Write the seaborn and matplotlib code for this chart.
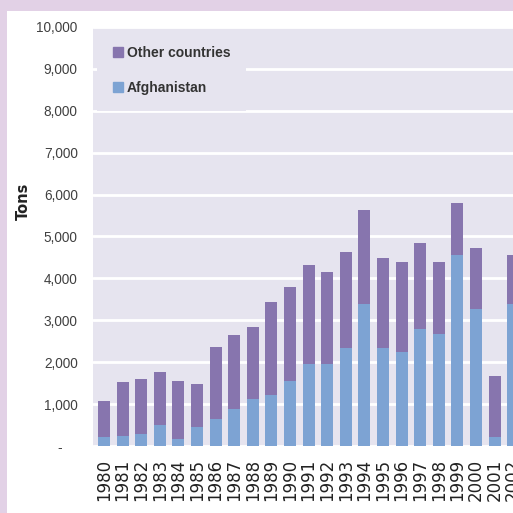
import matplotlib
matplotlib.use("Agg")
import matplotlib.pyplot as plt
import matplotlib.patches as mpatches
from matplotlib.ticker import FuncFormatter
import seaborn as sns
import pandas as pd
import numpy as np

years = [str(y) for y in range(1980, 2003)]
afghanistan = [210, 250, 290, 490, 170, 450, 650, 880, 1130, 1210, 1560, 1960,
               1960, 2330, 3400, 2330, 2250, 2800, 2680, 4560, 3280, 210, 3400]
other_countries = [870, 1270, 1310, 1270, 1390, 1030, 1710, 1760, 1710, 2230, 2240,
                   2360, 2200, 2310, 2230, 2150, 2150, 2040, 1720, 1240, 1440, 1470, 1160]
y_ticks = [0, 1000, 2000, 3000, 4000, 5000, 6000, 7000, 8000, 9000, 10000]

df = pd.DataFrame({"year": years,
                   "afghanistan": afghanistan,
                   "total": np.array(afghanistan) + np.array(other_countries)})

sns.set_theme(style="darkgrid")
lib = ["Liberation Sans", "DejaVu Sans"]

W = H = 513
fig = plt.figure(figsize=(5.13, 5.13), dpi=100)
fig.patch.set_facecolor("#e2d1e6")
fig.patches.append(mpatches.Rectangle((7 / W, 0), 1, (H - 11) / H, transform=fig.transFigure,
                                      facecolor="white", edgecolor="none", zorder=-10))

px = 18.6  # pixels per category
left_px, right_px = 93, 640
ax = fig.add_axes([left_px / W, (H - 446) / H, (right_px - left_px) / W, (446 - 27) / H])
ax.set_zorder(1)
ax.set_facecolor("#e6e4ef")

purple = "#8775ae"
blue = "#7da3d3"
sns.barplot(data=df, x="year", y="total", color=purple, width=0.64, saturation=1,
            linewidth=0, ax=ax, zorder=2)
sns.barplot(data=df, x="year", y="afghanistan", color=blue, width=0.64, saturation=1,
            linewidth=0, ax=ax, zorder=3)

x0 = -(104 - left_px) / px
ax.set_xlim(x0, x0 + (right_px - left_px) / px)
ax.set_ylim(0, 10000)
ax.set_yticks(y_ticks)
ax.yaxis.set_major_formatter(FuncFormatter(lambda v, p: "-    " if v == 0 else f"{int(v):,}"))
ax.grid(axis="y", color="white", linewidth=2)
ax.grid(axis="x", visible=False)
for s in ax.spines.values():
    s.set_visible(False)
ax.set_xlabel("")
ax.set_ylabel("")
ax.tick_params(axis="y", length=0, pad=11, labelsize=9.8, labelcolor="#404040")
ax.tick_params(axis="x", length=0, pad=9, labelsize=12, labelcolor="#222222", rotation=90)
for lab in ax.get_yticklabels():
    lab.set_family(lib)
for lab in ax.get_xticklabels():
    lab.set_family(["DejaVu Sans"])

fig.text(23 / W, 1 - 201 / H, "Tons", rotation=90, ha="center", va="center",
         fontsize=10.5, fontweight="bold", color="#222222", family=["DejaVu Sans"])

handles = [mpatches.Patch(color=purple, label="Other countries"),
           mpatches.Patch(color=blue, label="Afghanistan")]
leg = ax.legend(handles=handles, loc="upper left",
                bbox_to_anchor=(4 / (right_px - left_px), 1.0 - 3 / 419),
                frameon=True, facecolor="#e6e4ef", edgecolor="none", framealpha=1,
                handlelength=0.72, handleheight=0.72, handletextpad=0.28,
                labelspacing=1.5, borderaxespad=0, borderpad=1.15,
                prop={"family": lib, "size": 10, "weight": "bold"})
for t in leg.get_texts():
    t.set_color("#333333")
leg.get_frame().set_boxstyle("square", pad=0)
leg.set_zorder(5)

fig.savefig("out.png", dpi=100, facecolor=fig.get_facecolor())
